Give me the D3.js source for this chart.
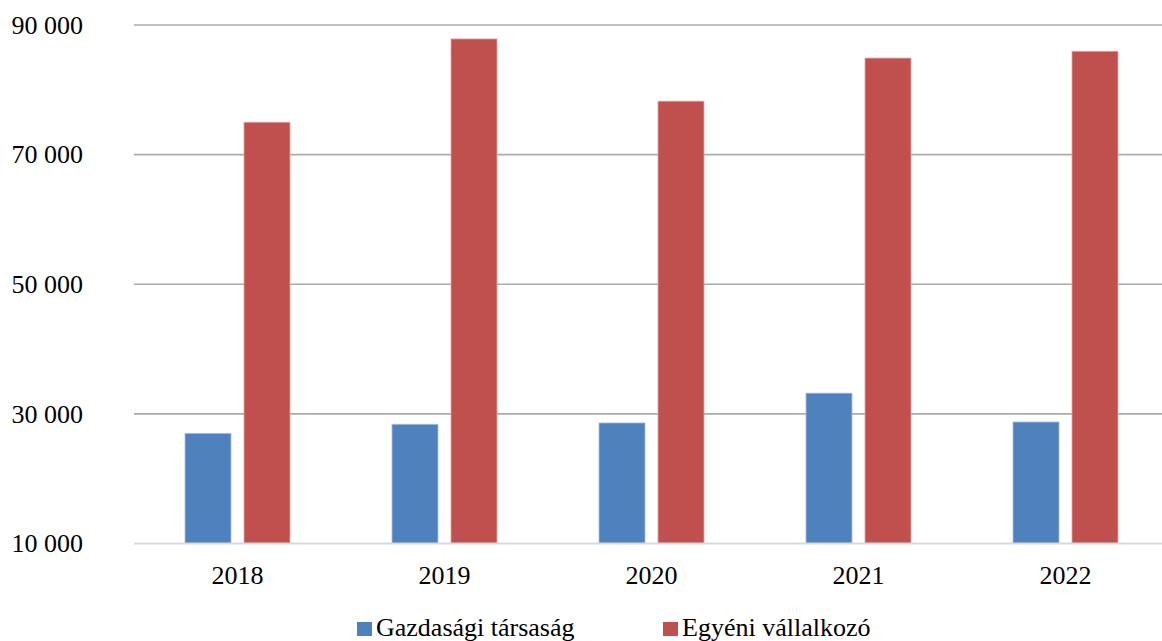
<!DOCTYPE html>
<html lang="hu">
  <head>
    <meta charset="UTF-8" />
    <title>Vállalkozások</title>
    <style>
      body { margin: 0; background: #fff; }
      text { font-family: "Liberation Serif", "Times New Roman", serif; fill: #000; }
    </style>
  </head>
  <body>
    <svg id="svg" width="1162" height="641"></svg>

    <script src="https://cdn.jsdelivr.net/npm/d3@7"></script>
    <script>
      const WIDTH = 1162;
      const HEIGHT = 641;

      const years = ["2018", "2019", "2020", "2021", "2022"];
      const seriesNames = ["Gazdasági társaság", "Egyéni vállalkozó"];
      const gazdasagi = [27000, 28400, 28600, 33200, 28750];
      const egyeni = [75000, 87850, 78250, 84900, 85950];
      const yTicks = [10000, 30000, 50000, 70000, 90000];

      const colors = ["#4f81bd", "#c0504d"];
      const borders = ["#a9c1df", "#e3a8a6"];

      const rows = years.map((y, i) => ({
        year: y,
        values: [gazdasagi[i], egyeni[i]]
      }));

      const svg = d3.select("#svg");

      const x0 = d3.scaleBand().domain(years).range([134, 1169]);
      const x1 = d3
        .scaleBand()
        .domain(seriesNames)
        .range([51, 156])
        .paddingInner(0.22);
      const y = d3.scaleLinear().domain([10000, 90000]).range([543.5, 25]);

      const fmt = (v) => d3.format(",")(v).replace(/,/g, " ");

      // gridlines
      svg
        .append("g")
        .selectAll("line")
        .data(yTicks.filter((t) => t !== 10000))
        .enter()
        .append("line")
        .attr("x1", 134)
        .attr("x2", WIDTH)
        .attr("y1", (d) => y(d))
        .attr("y2", (d) => y(d))
        .attr("stroke", "#ababab")
        .attr("stroke-width", 1.6);

      // bars
      const groups = svg
        .append("g")
        .selectAll("g")
        .data(rows)
        .enter()
        .append("g")
        .attr("transform", (d) => `translate(${x0(d.year)},0)`);

      groups
        .selectAll("rect")
        .data((d) => d.values.map((v, i) => ({ name: seriesNames[i], v, i })))
        .enter()
        .append("rect")
        .attr("x", (d) => x1(d.name))
        .attr("y", (d) => y(d.v))
        .attr("width", x1.bandwidth())
        .attr("height", (d) => y(10000) - y(d.v))
        .attr("fill", (d) => colors[d.i])
        .attr("stroke", (d) => borders[d.i])
        .attr("stroke-width", 0.8);

      // baseline
      svg
        .append("line")
        .attr("x1", 134)
        .attr("x2", WIDTH)
        .attr("y1", y(10000))
        .attr("y2", y(10000))
        .attr("stroke", "#d9d9d9")
        .attr("stroke-width", 2);

      // y labels
      svg
        .append("g")
        .selectAll("text")
        .data(yTicks)
        .enter()
        .append("text")
        .attr("x", 83)
        .attr("y", (d) => y(d))
        .attr("dy", "0.34em")
        .attr("text-anchor", "end")
        .style("font-size", "26px")
        .text(fmt);

      // x labels
      svg
        .append("g")
        .selectAll("text")
        .data(years)
        .enter()
        .append("text")
        .attr("x", (d) => x0(d) + x0.bandwidth() / 2)
        .attr("y", 584)
        .attr("text-anchor", "middle")
        .style("font-size", "26px")
        .text((d) => d);

      // legend
      const legendX = [357, 663];
      const legend = svg
        .append("g")
        .selectAll("g")
        .data(seriesNames)
        .enter()
        .append("g")
        .attr("transform", (d, i) => `translate(${legendX[i]},0)`);
      legend
        .append("rect")
        .attr("x", 0)
        .attr("y", 622)
        .attr("width", 15)
        .attr("height", 14)
        .attr("fill", (d, i) => colors[i]);
      legend
        .append("text")
        .attr("x", 19)
        .attr("y", 636)
        .style("font-size", "26px")
        .text((d) => d);
    </script>
  </body>
</html>
